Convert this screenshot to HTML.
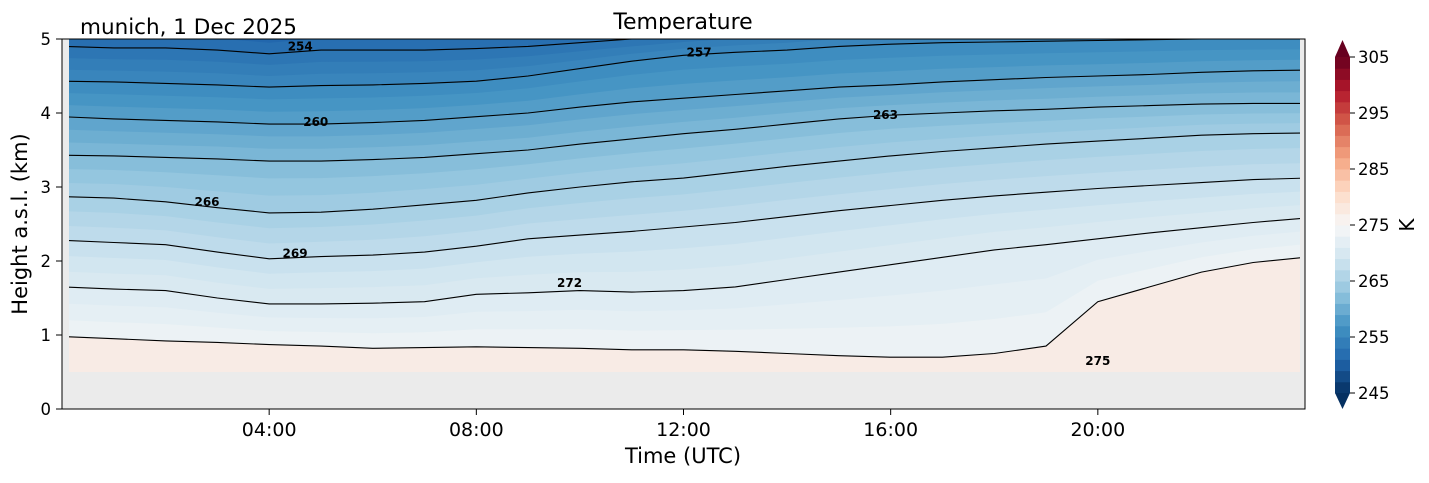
<!DOCTYPE html>
<html><head><meta charset="utf-8"><style>
body{margin:0;background:#fff;font-family:"Liberation Sans","DejaVu Sans",sans-serif}
svg text{font-family:"DejaVu Sans","Liberation Sans",sans-serif}
</style></head><body>
<svg id="chart" width="1429" height="478" xmlns="http://www.w3.org/2000/svg">
<defs><clipPath id="plotclip"><rect x="69" y="39" width="1231" height="333"/></clipPath></defs>
<rect x="62" y="39" width="1243" height="370" fill="#ebebeb"/>
<g id="fills" clip-path="url(#plotclip)"></g>
<g id="lines" clip-path="url(#plotclip)"></g>
<g id="clabels"></g>
<rect x="62" y="39" width="1243" height="370" fill="none" stroke="#000" stroke-width="1"/>
<g id="axes"></g>
<text x="683" y="29" font-size="22" text-anchor="middle">Temperature</text>
<text x="80" y="34" font-size="21.5">munich, 1 Dec 2025</text>
<text x="683" y="463" font-size="21" text-anchor="middle">Time (UTC)</text>
<text transform="translate(27,224) rotate(-90)" font-size="21" text-anchor="middle">Height a.s.l. (km)</text>
<g id="cbar"></g>
<text transform="translate(1414,225) rotate(-90)" font-size="20" text-anchor="middle">K</text>
</svg>
<script>
const hours=[0,1,2,3,4,5,6,7,8,9,10,11,12,13,14,15,16,17,18,19,20,21,22,23,24];
const contourLevels=[254,257,260,263,266,269,272,275];
const c254=[4.9,4.88,4.88,4.85,4.8,4.85,4.85,4.85,4.87,4.9,4.95,5.0,5.05,5.1,5.15,5.2,5.25,5.3,5.33,5.36,5.4,5.42,5.45,5.47,5.5];
const c257=[4.43,4.42,4.4,4.38,4.35,4.37,4.38,4.4,4.43,4.5,4.6,4.7,4.78,4.82,4.85,4.9,4.93,4.95,4.96,4.97,4.98,4.99,5.0,5.0,5.0];
const c260=[3.95,3.92,3.9,3.88,3.85,3.85,3.87,3.9,3.95,4.0,4.08,4.15,4.2,4.25,4.3,4.35,4.38,4.42,4.45,4.48,4.5,4.52,4.55,4.57,4.58];
const c263=[3.43,3.42,3.4,3.38,3.35,3.35,3.37,3.4,3.45,3.5,3.58,3.65,3.72,3.78,3.85,3.92,3.97,4.0,4.03,4.05,4.08,4.1,4.12,4.13,4.13];
const c266=[2.87,2.85,2.8,2.72,2.65,2.66,2.7,2.76,2.82,2.92,3.0,3.07,3.12,3.2,3.28,3.35,3.42,3.48,3.53,3.58,3.62,3.66,3.7,3.72,3.73];
const c269=[2.28,2.25,2.22,2.12,2.03,2.06,2.08,2.12,2.2,2.3,2.35,2.4,2.46,2.52,2.6,2.68,2.75,2.82,2.88,2.93,2.98,3.02,3.06,3.1,3.12];
const c272=[1.65,1.62,1.6,1.5,1.42,1.42,1.43,1.45,1.55,1.57,1.6,1.58,1.6,1.65,1.75,1.85,1.95,2.05,2.15,2.22,2.3,2.38,2.45,2.52,2.58];
const c275=[0.98,0.95,0.92,0.9,0.87,0.85,0.82,0.83,0.84,0.83,0.82,0.8,0.8,0.78,0.75,0.72,0.7,0.7,0.75,0.85,1.45,1.65,1.85,1.98,2.05];
const contourData=[c254,c257,c260,c263,c266,c269,c272,c275];
const labelLevels=[254,257,260,263,266,269,272,275];
const labelHours=[4.6,12.3,4.9,15.9,2.8,4.5,9.8,20.0];
const labelHeights=[4.9,4.82,3.88,3.97,2.8,2.1,1.7,0.65];
const cbarTicks=[245,255,265,275,285,295,305];
const xTicks=[4,8,12,16,20];const xTickLabels=["04:00","08:00","12:00","16:00","20:00"];
const yTicks=[0,1,2,3,4,5];

const NS="http://www.w3.org/2000/svg";
const X=t=>62+t*(1243/24);
const Y=h=>409-h*74;
const stops=["#053061","#2166ac","#4393c3","#92c5de","#d1e5f0","#f7f7f7","#fddbc7","#f4a582","#d6604d","#b2182b","#67001f"];
function hex(c){return [1,3,5].map(i=>parseInt(c.substr(i,2),16));}
function cmap(v){let f=(v-245)/60*10;f=Math.max(0,Math.min(10,f));const i=Math.min(9,Math.floor(f)),r=f-i;const a=hex(stops[i]),b=hex(stops[i+1]);return "rgb("+a.map((x,k)=>Math.round(x+(b[k]-x)*r)).join(",")+")";}
function mk(tag,attrs,parent){const e=document.createElementNS(NS,tag);for(const k in attrs)e.setAttribute(k,attrs[k]);parent.appendChild(e);return e;}
function levelLine(L){return hours.map((t,j)=>{
  if(L<=254){const a=c254[j],b=c257[j];return a+(254-L)/3*(a-b);}
  for(let i=0;i<contourLevels.length-1;i++){if(L>=contourLevels[i]&&L<=contourLevels[i+1]){const r=(L-contourLevels[i])/3;return contourData[i][j]+(contourData[i+1][j]-contourData[i][j])*r;}}
  return c275[j];});}
const fills=document.getElementById('fills');
let bg=mk('rect',{x:62,y:39,width:1243,height:370,fill:cmap(251)},fills);


for(let L=252;L<=275;L++){
  const hl=levelLine(L);
  let d="M"+X(hours[0])+","+Y(hl[0]);
  hours.forEach((t,j)=>{d+=" L"+X(t).toFixed(1)+","+Y(hl[j]).toFixed(1);});
  d+=" L"+X(24)+",409 L"+X(0)+",409 Z";
  const col=L>=275?"#f8ebe5":cmap(L-0.8);
  const p=mk('path',{d:d,fill:col},fills);
  
  
}
const lines=document.getElementById('lines');
contourData.forEach((arr,i)=>{
  let d="";hours.forEach((t,j)=>{d+=(j?" L":"M")+X(t).toFixed(1)+","+Y(arr[j]).toFixed(1);});
  const p=mk('path',{d:d,fill:"none",stroke:"#000","stroke-width":1.1},lines);
  
  
});
const gr=mk('rect',{x:62,y:Y(0.5),width:1243,height:409-Y(0.5),fill:"#ebebeb"},document.getElementById('chart'));


document.getElementById('chart').insertBefore(gr,document.getElementById('clabels'));
const cl=document.getElementById('clabels');
labelLevels.forEach((v,i)=>{const t=mk('text',{x:X(labelHours[i]),y:Y(labelHeights[i])+4,"font-size":12,"font-weight":"bold","text-anchor":"middle"},cl);t.textContent=v;
  
  });
const ax=document.getElementById('axes');
xTicks.forEach((t,i)=>{mk('line',{x1:X(t),x2:X(t),y1:409,y2:415,stroke:"#000"},ax);
  const tx=mk('text',{x:X(t),y:436,"font-size":19,"text-anchor":"middle"},ax);tx.textContent=xTickLabels[i];
  
  });
yTicks.forEach(h=>{mk('line',{x1:56,x2:62,y1:Y(h),y2:Y(h),stroke:"#000"},ax);
  const tx=mk('text',{x:51,y:Y(h)+6,"font-size":16.5,"text-anchor":"end"},ax);tx.textContent=h;
  
  });
const cb=document.getElementById('cbar');
const CY=v=>393-(v-245)*(336/60);
for(let v=245;v<305;v+=2){const r=mk('rect',{x:1335,y:CY(v+2),width:15,height:CY(v)-CY(v+2)+0.5,fill:cmap(v+1)},cb);
  
  }
mk('polygon',{points:"1335,57 1350,57 1342.5,40",fill:cmap(305)},cb);
mk('polygon',{points:"1335,393 1350,393 1342.5,409",fill:cmap(245)},cb);
cbarTicks.forEach(v=>{mk('line',{x1:1350,x2:1355,y1:CY(v),y2:CY(v),stroke:"#000"},cb);
  const tx=mk('text',{x:1358,y:CY(v)+6,"font-size":16.5},cb);tx.textContent=v;
  
  });
</script>
</body></html>
